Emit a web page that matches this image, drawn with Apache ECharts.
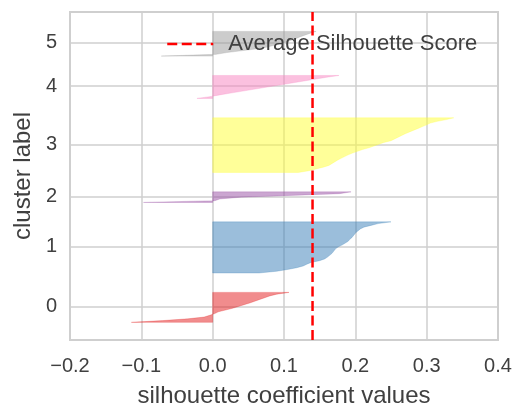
<!DOCTYPE html>
<html><head><meta charset="utf-8">
<script src="https://cdn.jsdelivr.net/npm/echarts@6/dist/echarts.min.js"></script>
<style>html,body{margin:0;padding:0;background:#fff}#c{width:515px;height:413px}</style>
</head><body><div id="c"></div><script>
const clusterLabels = ['0', '1', '2', '3', '4', '5'];
const cluster0 = [-0.114, -0.07, -0.035, -0.012, -0.004, 0.003, 0.008, 0.018, 0.028, 0.036, 0.044, 0.052, 0.059, 0.066, 0.073, 0.08, 0.09, 0.107];
const cluster1 = [0.065, 0.09, 0.105, 0.118, 0.127, 0.132, 0.138, 0.15, 0.157, 0.161, 0.164, 0.167, 0.169, 0.171, 0.173, 0.177, 0.182, 0.186, 0.19, 0.192, 0.195, 0.197, 0.199, 0.201, 0.204, 0.207, 0.212, 0.222, 0.232, 0.25];
const cluster2 = [-0.097, 0.003, 0.01, 0.04, 0.11, 0.178, 0.194];
const cluster3 = [0.12, 0.135, 0.145, 0.155, 0.163, 0.167, 0.171, 0.175, 0.18, 0.185, 0.19, 0.196, 0.203, 0.21, 0.219, 0.226, 0.233, 0.24, 0.25, 0.255, 0.26, 0.265, 0.27, 0.276, 0.282, 0.288, 0.294, 0.3, 0.305, 0.315, 0.328, 0.338];
const cluster4 = [-0.022, -0.004, 0.01, 0.025, 0.04, 0.055, 0.07, 0.085, 0.1, 0.115, 0.13, 0.145, 0.16, 0.177];
const cluster5 = [-0.072, 0.005, 0.02, 0.04, 0.06, 0.075, 0.085, 0.095, 0.103, 0.11, 0.117, 0.123, 0.13, 0.137, 0.145];
const avgScore = 0.14;
const xTickMin = -0.2, xTickMax = 0.4, xTickStep = 0.1;
const clusterColors = ['rgba(228,26,28,0.5)', 'rgba(55,126,184,0.5)', 'rgba(152,78,163,0.5)', 'rgba(255,255,51,0.5)', 'rgba(247,129,191,0.5)', 'rgba(153,153,153,0.5)'];

const clusters = [cluster0, cluster1, cluster2, cluster3, cluster4, cluster5];
// yellowbrick-style layout of rows in data units
let yLower = 10;
const clusterPts = [];
const tickPos = [];
clusters.forEach(vals => {
  clusterPts.push(vals.map((v, j) => [v, yLower + j]));
  tickPos.push(yLower + 0.5 * vals.length);
  yLower += vals.length + 10;
});
const yMax = yLower;

const FONT = 'Liberation Sans';
const TXT = '#404040';
const GRID = '#cfcfcf';

const chart = echarts.init(document.getElementById('c'), null, {renderer: 'canvas'});
const series = clusterPts.map((pts, i) => ({
  type: 'custom',
  name: 'cluster ' + clusterLabels[i],
  clip: true,
  silent: true,
  data: [[i]],
  renderItem: function (params, api) {
    const poly = [];
    poly.push(api.coord([0, pts[0][1]]));
    pts.forEach(p => poly.push(api.coord(p)));
    poly.push(api.coord([0, pts[pts.length - 1][1]]));
    return {
      type: 'polygon',
      shape: {points: poly},
      style: {fill: clusterColors[i], stroke: clusterColors[i], lineWidth: 0.5}
    };
  },
  z: 2
}));
series.push({
  type: 'line',
  name: 'Average Silhouette Score',
  data: [[avgScore, 0], [avgScore, yMax]],
  symbol: 'none',
  silent: true,
  lineStyle: {color: '#ff0000', width: 2.5, type: [10, 4.5]},
  itemStyle: {color: '#ff0000'},
  z: 5
});

chart.setOption({
  animation: false,
  textStyle: {fontFamily: FONT},
  grid: {left: 70, right: 17, top: 12, bottom: 73, show: true, borderColor: GRID, borderWidth: 2, backgroundColor: 'transparent'},
  legend: {
    data: ['Average Silhouette Score'],
    left: 161, top: 28,
    itemWidth: 46, itemHeight: 14,
    itemStyle: {opacity: 0},
    lineStyle: {color: '#ff0000', width: 2.5, type: [10, 4.5]},
    textStyle: {fontFamily: FONT, fontSize: 22, color: TXT, padding: [0, 0, 0, 10]},
    selectedMode: false
  },
  xAxis: {
    type: 'value', min: xTickMin, max: xTickMax, interval: xTickStep,
    name: 'silhouette coefficient values', nameLocation: 'middle', nameGap: 44,
    nameTextStyle: {fontFamily: FONT, fontSize: 24, color: TXT},
    axisLine: {show: false}, axisTick: {show: false},
    axisLabel: {
      margin: 16, fontFamily: FONT, fontSize: 20, color: TXT,
      formatter: v => { if (Math.abs(v) < 1e-9) return '0.0'; const s = v.toFixed(1); return s.replace('-', '\u2212'); }
    },
    splitLine: {show: true, lineStyle: {color: GRID, width: 1.5}}
  },
  yAxis: {
    type: 'value', min: 0, max: yMax,
    name: 'cluster label', nameLocation: 'middle', nameGap: 30,
    nameTextStyle: {fontFamily: FONT, fontSize: 24, color: TXT},
    axisLine: {show: false},
    axisTick: {show: false, customValues: tickPos},
    axisLabel: {
      margin: 13, fontFamily: FONT, fontSize: 20, color: TXT,
      customValues: tickPos,
      formatter: v => { const k = tickPos.findIndex(t => Math.abs(t - v) < 1e-6); return k >= 0 ? clusterLabels[k] : ''; }
    },
    splitLine: {show: true, lineStyle: {color: GRID, width: 1.5}}
  },
  series: series
});
</script></body></html>
